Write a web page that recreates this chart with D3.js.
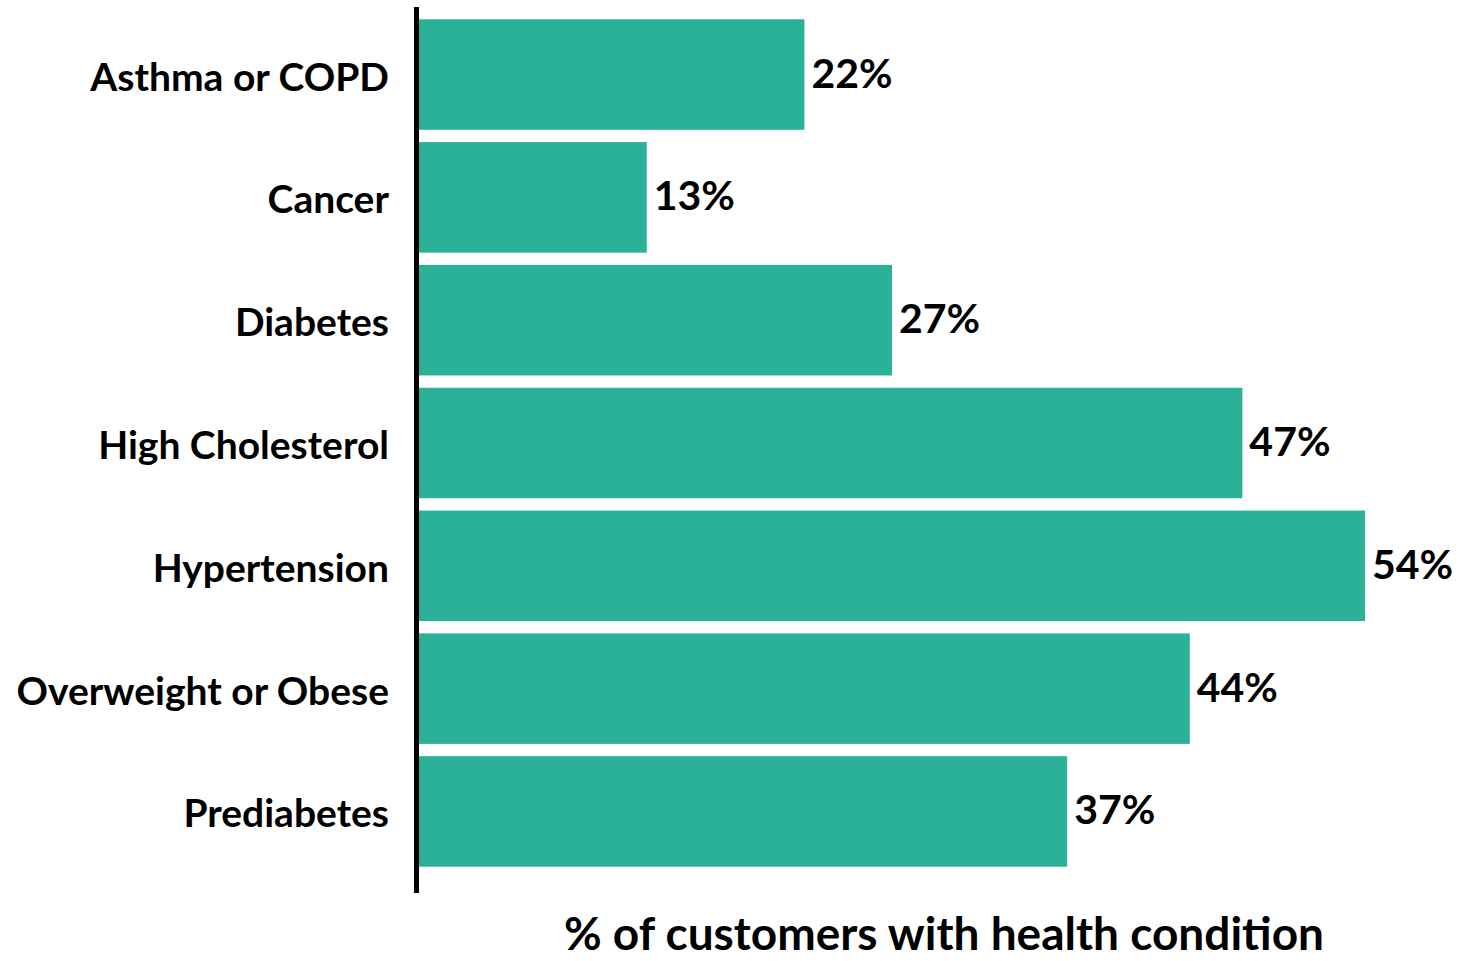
<!DOCTYPE html>
<html>
<head>
<meta charset="utf-8">
<script src="https://cdn.jsdelivr.net/npm/d3@7"></script>
<style>
  body { margin: 0; background: #fff; }
  text { font-family: Lato, "Open Sans", sans-serif; font-weight: 700; fill: #000; }
</style>
</head>
<body>
<svg id="chart" width="1473" height="961"></svg>
<script>
// health conditions among customers
var categories = ['Asthma or COPD', 'Cancer', 'Diabetes', 'High Cholesterol',
                  'Hypertension', 'Overweight or Obese', 'Prediabetes'];
var percents = [22, 13, 27, 47, 54, 44, 37];
var axisTitle = '% of customers with health condition';

var rows = categories.map(function(c, i){ return {name: c, value: percents[i]}; });

var svg = d3.select('#chart');

var x = d3.scaleLinear()
    .domain([0, 54])
    .range([419, 1365]);

var y = d3.scaleBand()
    .domain(categories)
    .range([7, 879])
    .paddingInner(0.1)
    .paddingOuter(0.1);

var bars = svg.selectAll('rect.bar')
    .data(rows)
    .enter().append('rect')
    .attr('class', 'bar')
    .attr('x', x(0))
    .attr('y', function(d){ return y(d.name); })
    .attr('width', function(d){ return x(d.value) - x(0); })
    .attr('height', y.bandwidth())
    .attr('fill', '#2cb199');

// value labels
svg.selectAll('text.value')
    .data(rows)
    .enter().append('text')
    .attr('class', 'value')
    .attr('x', function(d){ return x(d.value) + 7; })
    .attr('y', function(d){ return y(d.name) + y.bandwidth() / 2 + 13; })
    .style('font-size', '41px')
    .text(function(d){ return d.value + '%'; });

// category labels
svg.selectAll('text.cat')
    .data(rows)
    .enter().append('text')
    .attr('class', 'cat')
    .attr('x', 389)
    .attr('y', function(d){ return y(d.name) + y.bandwidth() / 2 + 16; })
    .attr('text-anchor', 'end')
    .style('font-size', '39px')
    .text(function(d){ return d.name; });

// axis line
svg.append('line')
    .attr('x1', 416.5).attr('x2', 416.5)
    .attr('y1', 7).attr('y2', 893)
    .attr('stroke', '#000')
    .attr('stroke-width', 5);

svg.append('text')
    .attr('x', 944)
    .attr('y', 950)
    .attr('text-anchor', 'middle')
    .style('font-size', '46px')
    .text(axisTitle);
</script>
</body>
</html>
